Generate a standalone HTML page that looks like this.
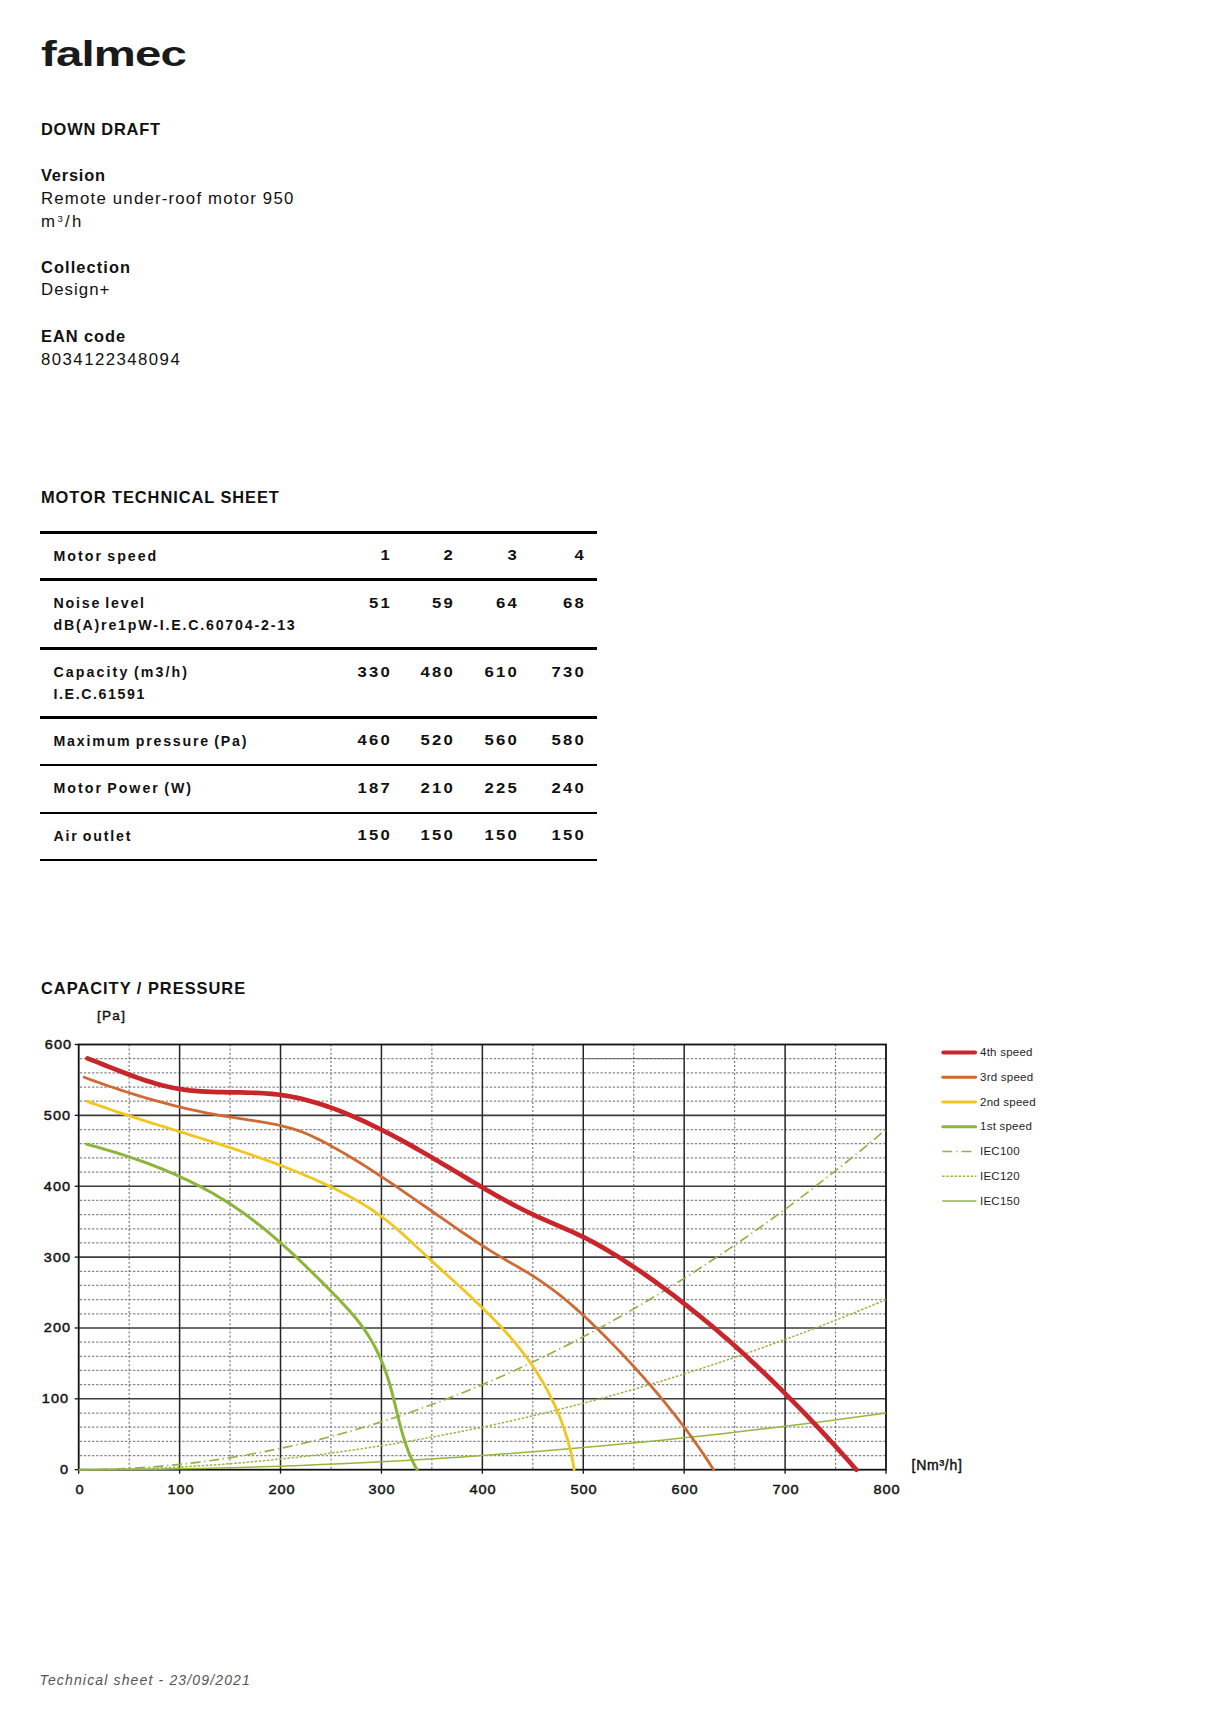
<!DOCTYPE html>
<html><head><meta charset="utf-8"><title>falmec - Technical sheet</title>
<style>
html,body{margin:0;padding:0;background:#fff;}
body{width:1214px;height:1718px;position:relative;overflow:hidden;font-family:"Liberation Sans", sans-serif;}
</style></head><body>
<div style="position:absolute;left:40.5px;top:35.57px;font-size:35px;line-height:35px;font-weight:700;letter-spacing:-0.6px;font-style:normal;color:#1a1a1a;white-space:nowrap;transform:scaleX(1.352);transform-origin:0 0;">falmec</div>
<div style="position:absolute;left:41px;top:120.82px;font-size:16.4px;line-height:16.4px;font-weight:700;letter-spacing:0.78px;font-style:normal;color:#111;white-space:nowrap;">DOWN DRAFT</div>
<div style="position:absolute;left:41px;top:167.12px;font-size:16.4px;line-height:16.4px;font-weight:700;letter-spacing:0.8px;font-style:normal;color:#111;white-space:nowrap;">Version</div>
<div style="position:absolute;left:41px;top:191.08px;font-size:16.8px;line-height:16.8px;font-weight:400;letter-spacing:1.2px;font-style:normal;color:#111;white-space:nowrap;">Remote under-roof motor 950</div>
<div style="position:absolute;left:41px;top:214.18px;font-size:16.8px;line-height:16.8px;font-weight:400;letter-spacing:2.4px;font-style:normal;color:#111;white-space:nowrap;">m<span style="font-size:9.5px;position:relative;top:-5.2px;letter-spacing:2.2px">3</span>/h</div>
<div style="position:absolute;left:41px;top:259.12px;font-size:16.4px;line-height:16.4px;font-weight:700;letter-spacing:1.1px;font-style:normal;color:#111;white-space:nowrap;">Collection</div>
<div style="position:absolute;left:41px;top:282.08px;font-size:16.8px;line-height:16.8px;font-weight:400;letter-spacing:1.05px;font-style:normal;color:#111;white-space:nowrap;">Design+</div>
<div style="position:absolute;left:41px;top:328.02px;font-size:16.4px;line-height:16.4px;font-weight:700;letter-spacing:0.95px;font-style:normal;color:#111;white-space:nowrap;">EAN code</div>
<div style="position:absolute;left:41px;top:351.88px;font-size:16.8px;line-height:16.8px;font-weight:400;letter-spacing:1.45px;font-style:normal;color:#111;white-space:nowrap;">8034122348094</div>
<div style="position:absolute;left:41px;top:489.12px;font-size:16.4px;line-height:16.4px;font-weight:700;letter-spacing:0.95px;font-style:normal;color:#111;white-space:nowrap;">MOTOR TECHNICAL SHEET</div>
<div style="position:absolute;left:40px;top:530.7px;width:557px;height:3px;background:#000"></div>
<div style="position:absolute;left:40px;top:578.0px;width:557px;height:3px;background:#000"></div>
<div style="position:absolute;left:40px;top:646.5px;width:557px;height:3px;background:#000"></div>
<div style="position:absolute;left:40px;top:715.5px;width:557px;height:3px;background:#000"></div>
<div style="position:absolute;left:40px;top:764.0px;width:557px;height:2px;background:#000"></div>
<div style="position:absolute;left:40px;top:811.5px;width:557px;height:2px;background:#000"></div>
<div style="position:absolute;left:40px;top:859.0px;width:557px;height:2px;background:#000"></div>
<div style="position:absolute;left:53.5px;top:548.88px;font-size:14.2px;line-height:14.2px;font-weight:700;letter-spacing:2.0px;font-style:normal;color:#111;white-space:nowrap;word-spacing:-1.6px;">Motor speed</div>
<div style="position:absolute;left:291.9px;top:548.23px;width:100px;text-align:right;font-size:14.5px;line-height:14.5px;font-weight:700;letter-spacing:1.95px;color:#111;transform:scaleX(1.15);transform-origin:100% 0">1</div>
<div style="position:absolute;left:355.2px;top:548.23px;width:100px;text-align:right;font-size:14.5px;line-height:14.5px;font-weight:700;letter-spacing:1.95px;color:#111;transform:scaleX(1.15);transform-origin:100% 0">2</div>
<div style="position:absolute;left:419.4px;top:548.23px;width:100px;text-align:right;font-size:14.5px;line-height:14.5px;font-weight:700;letter-spacing:1.95px;color:#111;transform:scaleX(1.15);transform-origin:100% 0">3</div>
<div style="position:absolute;left:485.7px;top:548.23px;width:100px;text-align:right;font-size:14.5px;line-height:14.5px;font-weight:700;letter-spacing:1.95px;color:#111;transform:scaleX(1.15);transform-origin:100% 0">4</div>
<div style="position:absolute;left:53.5px;top:596.38px;font-size:14.2px;line-height:14.2px;font-weight:700;letter-spacing:1.8px;font-style:normal;color:#111;white-space:nowrap;word-spacing:-1.6px;">Noise level</div>
<div style="position:absolute;left:53.5px;top:617.88px;font-size:14.2px;line-height:14.2px;font-weight:700;letter-spacing:1.8px;font-style:normal;color:#111;white-space:nowrap;word-spacing:-1.6px;">dB(A)re1pW-I.E.C.60704-2-13</div>
<div style="position:absolute;left:291.9px;top:595.73px;width:100px;text-align:right;font-size:14.5px;line-height:14.5px;font-weight:700;letter-spacing:1.95px;color:#111;transform:scaleX(1.15);transform-origin:100% 0">51</div>
<div style="position:absolute;left:355.2px;top:595.73px;width:100px;text-align:right;font-size:14.5px;line-height:14.5px;font-weight:700;letter-spacing:1.95px;color:#111;transform:scaleX(1.15);transform-origin:100% 0">59</div>
<div style="position:absolute;left:419.4px;top:595.73px;width:100px;text-align:right;font-size:14.5px;line-height:14.5px;font-weight:700;letter-spacing:1.95px;color:#111;transform:scaleX(1.15);transform-origin:100% 0">64</div>
<div style="position:absolute;left:485.7px;top:595.73px;width:100px;text-align:right;font-size:14.5px;line-height:14.5px;font-weight:700;letter-spacing:1.95px;color:#111;transform:scaleX(1.15);transform-origin:100% 0">68</div>
<div style="position:absolute;left:53.5px;top:665.38px;font-size:14.2px;line-height:14.2px;font-weight:700;letter-spacing:2.1px;font-style:normal;color:#111;white-space:nowrap;word-spacing:-1.6px;">Capacity (m3/h)</div>
<div style="position:absolute;left:53.5px;top:686.88px;font-size:14.2px;line-height:14.2px;font-weight:700;letter-spacing:1.6px;font-style:normal;color:#111;white-space:nowrap;word-spacing:-1.6px;">I.E.C.61591</div>
<div style="position:absolute;left:291.9px;top:664.73px;width:100px;text-align:right;font-size:14.5px;line-height:14.5px;font-weight:700;letter-spacing:1.95px;color:#111;transform:scaleX(1.15);transform-origin:100% 0">330</div>
<div style="position:absolute;left:355.2px;top:664.73px;width:100px;text-align:right;font-size:14.5px;line-height:14.5px;font-weight:700;letter-spacing:1.95px;color:#111;transform:scaleX(1.15);transform-origin:100% 0">480</div>
<div style="position:absolute;left:419.4px;top:664.73px;width:100px;text-align:right;font-size:14.5px;line-height:14.5px;font-weight:700;letter-spacing:1.95px;color:#111;transform:scaleX(1.15);transform-origin:100% 0">610</div>
<div style="position:absolute;left:485.7px;top:664.73px;width:100px;text-align:right;font-size:14.5px;line-height:14.5px;font-weight:700;letter-spacing:1.95px;color:#111;transform:scaleX(1.15);transform-origin:100% 0">730</div>
<div style="position:absolute;left:53.5px;top:733.88px;font-size:14.2px;line-height:14.2px;font-weight:700;letter-spacing:1.8px;font-style:normal;color:#111;white-space:nowrap;word-spacing:-1.6px;">Maximum pressure (Pa)</div>
<div style="position:absolute;left:291.9px;top:733.23px;width:100px;text-align:right;font-size:14.5px;line-height:14.5px;font-weight:700;letter-spacing:1.95px;color:#111;transform:scaleX(1.15);transform-origin:100% 0">460</div>
<div style="position:absolute;left:355.2px;top:733.23px;width:100px;text-align:right;font-size:14.5px;line-height:14.5px;font-weight:700;letter-spacing:1.95px;color:#111;transform:scaleX(1.15);transform-origin:100% 0">520</div>
<div style="position:absolute;left:419.4px;top:733.23px;width:100px;text-align:right;font-size:14.5px;line-height:14.5px;font-weight:700;letter-spacing:1.95px;color:#111;transform:scaleX(1.15);transform-origin:100% 0">560</div>
<div style="position:absolute;left:485.7px;top:733.23px;width:100px;text-align:right;font-size:14.5px;line-height:14.5px;font-weight:700;letter-spacing:1.95px;color:#111;transform:scaleX(1.15);transform-origin:100% 0">580</div>
<div style="position:absolute;left:53.5px;top:781.38px;font-size:14.2px;line-height:14.2px;font-weight:700;letter-spacing:2.0px;font-style:normal;color:#111;white-space:nowrap;word-spacing:-1.6px;">Motor Power (W)</div>
<div style="position:absolute;left:291.9px;top:780.73px;width:100px;text-align:right;font-size:14.5px;line-height:14.5px;font-weight:700;letter-spacing:1.95px;color:#111;transform:scaleX(1.15);transform-origin:100% 0">187</div>
<div style="position:absolute;left:355.2px;top:780.73px;width:100px;text-align:right;font-size:14.5px;line-height:14.5px;font-weight:700;letter-spacing:1.95px;color:#111;transform:scaleX(1.15);transform-origin:100% 0">210</div>
<div style="position:absolute;left:419.4px;top:780.73px;width:100px;text-align:right;font-size:14.5px;line-height:14.5px;font-weight:700;letter-spacing:1.95px;color:#111;transform:scaleX(1.15);transform-origin:100% 0">225</div>
<div style="position:absolute;left:485.7px;top:780.73px;width:100px;text-align:right;font-size:14.5px;line-height:14.5px;font-weight:700;letter-spacing:1.95px;color:#111;transform:scaleX(1.15);transform-origin:100% 0">240</div>
<div style="position:absolute;left:53.5px;top:828.88px;font-size:14.2px;line-height:14.2px;font-weight:700;letter-spacing:1.8px;font-style:normal;color:#111;white-space:nowrap;word-spacing:-1.6px;">Air outlet</div>
<div style="position:absolute;left:291.9px;top:828.23px;width:100px;text-align:right;font-size:14.5px;line-height:14.5px;font-weight:700;letter-spacing:1.95px;color:#111;transform:scaleX(1.15);transform-origin:100% 0">150</div>
<div style="position:absolute;left:355.2px;top:828.23px;width:100px;text-align:right;font-size:14.5px;line-height:14.5px;font-weight:700;letter-spacing:1.95px;color:#111;transform:scaleX(1.15);transform-origin:100% 0">150</div>
<div style="position:absolute;left:419.4px;top:828.23px;width:100px;text-align:right;font-size:14.5px;line-height:14.5px;font-weight:700;letter-spacing:1.95px;color:#111;transform:scaleX(1.15);transform-origin:100% 0">150</div>
<div style="position:absolute;left:485.7px;top:828.23px;width:100px;text-align:right;font-size:14.5px;line-height:14.5px;font-weight:700;letter-spacing:1.95px;color:#111;transform:scaleX(1.15);transform-origin:100% 0">150</div>
<div style="position:absolute;left:41px;top:980.12px;font-size:16.4px;line-height:16.4px;font-weight:700;letter-spacing:1.0px;font-style:normal;color:#111;white-space:nowrap;">CAPACITY / PRESSURE</div>
<div style="position:absolute;left:97px;top:1008.77px;font-size:13.5px;line-height:13.5px;font-weight:400;letter-spacing:1.3px;font-style:normal;color:#111;white-space:nowrap;-webkit-text-stroke:0.45px #111;">[Pa]</div>
<svg style="position:absolute;left:0;top:0" width="1214" height="1718" viewBox="0 0 1214 1718">
<line x1="79.7" y1="1455.53" x2="886.0" y2="1455.53" stroke="#888" stroke-width="1.25" stroke-dasharray="2.4 1.7"/>
<line x1="79.7" y1="1441.35" x2="886.0" y2="1441.35" stroke="#888" stroke-width="1.25" stroke-dasharray="2.4 1.7"/>
<line x1="79.7" y1="1427.18" x2="886.0" y2="1427.18" stroke="#888" stroke-width="1.25" stroke-dasharray="2.4 1.7"/>
<line x1="79.7" y1="1413.01" x2="886.0" y2="1413.01" stroke="#888" stroke-width="1.25" stroke-dasharray="2.4 1.7"/>
<line x1="79.7" y1="1384.66" x2="886.0" y2="1384.66" stroke="#888" stroke-width="1.25" stroke-dasharray="2.4 1.7"/>
<line x1="79.7" y1="1370.49" x2="886.0" y2="1370.49" stroke="#888" stroke-width="1.25" stroke-dasharray="2.4 1.7"/>
<line x1="79.7" y1="1356.31" x2="886.0" y2="1356.31" stroke="#888" stroke-width="1.25" stroke-dasharray="2.4 1.7"/>
<line x1="79.7" y1="1342.14" x2="886.0" y2="1342.14" stroke="#888" stroke-width="1.25" stroke-dasharray="2.4 1.7"/>
<line x1="79.7" y1="1313.79" x2="886.0" y2="1313.79" stroke="#888" stroke-width="1.25" stroke-dasharray="2.4 1.7"/>
<line x1="79.7" y1="1299.62" x2="886.0" y2="1299.62" stroke="#888" stroke-width="1.25" stroke-dasharray="2.4 1.7"/>
<line x1="79.7" y1="1285.45" x2="886.0" y2="1285.45" stroke="#888" stroke-width="1.25" stroke-dasharray="2.4 1.7"/>
<line x1="79.7" y1="1271.27" x2="886.0" y2="1271.27" stroke="#888" stroke-width="1.25" stroke-dasharray="2.4 1.7"/>
<line x1="79.7" y1="1242.93" x2="886.0" y2="1242.93" stroke="#888" stroke-width="1.25" stroke-dasharray="2.4 1.7"/>
<line x1="79.7" y1="1228.75" x2="886.0" y2="1228.75" stroke="#888" stroke-width="1.25" stroke-dasharray="2.4 1.7"/>
<line x1="79.7" y1="1214.58" x2="886.0" y2="1214.58" stroke="#888" stroke-width="1.25" stroke-dasharray="2.4 1.7"/>
<line x1="79.7" y1="1200.41" x2="886.0" y2="1200.41" stroke="#888" stroke-width="1.25" stroke-dasharray="2.4 1.7"/>
<line x1="79.7" y1="1172.06" x2="886.0" y2="1172.06" stroke="#888" stroke-width="1.25" stroke-dasharray="2.4 1.7"/>
<line x1="79.7" y1="1157.89" x2="886.0" y2="1157.89" stroke="#888" stroke-width="1.25" stroke-dasharray="2.4 1.7"/>
<line x1="79.7" y1="1143.71" x2="886.0" y2="1143.71" stroke="#888" stroke-width="1.25" stroke-dasharray="2.4 1.7"/>
<line x1="79.7" y1="1129.54" x2="886.0" y2="1129.54" stroke="#888" stroke-width="1.25" stroke-dasharray="2.4 1.7"/>
<line x1="79.7" y1="1101.19" x2="886.0" y2="1101.19" stroke="#888" stroke-width="1.25" stroke-dasharray="2.4 1.7"/>
<line x1="79.7" y1="1087.02" x2="886.0" y2="1087.02" stroke="#888" stroke-width="1.25" stroke-dasharray="2.4 1.7"/>
<line x1="79.7" y1="1072.85" x2="886.0" y2="1072.85" stroke="#888" stroke-width="1.25" stroke-dasharray="2.4 1.7"/>
<line x1="79.7" y1="1058.67" x2="886.0" y2="1058.67" stroke="#888" stroke-width="1.25" stroke-dasharray="2.4 1.7"/>
<line x1="585.3" y1="1058.67" x2="684.2" y2="1058.67" stroke="#666" stroke-width="1"/>
<line x1="129.16" y1="1044.5" x2="129.16" y2="1469.7" stroke="#6e6e6e" stroke-width="1.1" stroke-dasharray="2 2.1"/>
<line x1="230.07" y1="1044.5" x2="230.07" y2="1469.7" stroke="#6e6e6e" stroke-width="1.1" stroke-dasharray="2 2.1"/>
<line x1="330.98" y1="1044.5" x2="330.98" y2="1469.7" stroke="#6e6e6e" stroke-width="1.1" stroke-dasharray="2 2.1"/>
<line x1="431.89" y1="1044.5" x2="431.89" y2="1469.7" stroke="#6e6e6e" stroke-width="1.1" stroke-dasharray="2 2.1"/>
<line x1="532.81" y1="1044.5" x2="532.81" y2="1469.7" stroke="#6e6e6e" stroke-width="1.1" stroke-dasharray="2 2.1"/>
<line x1="633.72" y1="1044.5" x2="633.72" y2="1469.7" stroke="#6e6e6e" stroke-width="1.1" stroke-dasharray="2 2.1"/>
<line x1="734.63" y1="1044.5" x2="734.63" y2="1469.7" stroke="#6e6e6e" stroke-width="1.1" stroke-dasharray="2 2.1"/>
<line x1="835.54" y1="1044.5" x2="835.54" y2="1469.7" stroke="#6e6e6e" stroke-width="1.1" stroke-dasharray="2 2.1"/>
<line x1="78.7" y1="1398.83" x2="886.0" y2="1398.83" stroke="#3c3c3c" stroke-width="1.55"/>
<line x1="78.7" y1="1327.97" x2="886.0" y2="1327.97" stroke="#3c3c3c" stroke-width="1.55"/>
<line x1="78.7" y1="1257.10" x2="886.0" y2="1257.10" stroke="#3c3c3c" stroke-width="1.55"/>
<line x1="78.7" y1="1186.23" x2="886.0" y2="1186.23" stroke="#3c3c3c" stroke-width="1.55"/>
<line x1="78.7" y1="1115.37" x2="886.0" y2="1115.37" stroke="#3c3c3c" stroke-width="1.55"/>
<line x1="179.61" y1="1044.5" x2="179.61" y2="1469.7" stroke="#262626" stroke-width="1.5"/>
<line x1="280.52" y1="1044.5" x2="280.52" y2="1469.7" stroke="#262626" stroke-width="1.5"/>
<line x1="381.44" y1="1044.5" x2="381.44" y2="1469.7" stroke="#262626" stroke-width="1.5"/>
<line x1="482.35" y1="1044.5" x2="482.35" y2="1469.7" stroke="#262626" stroke-width="1.5"/>
<line x1="583.26" y1="1044.5" x2="583.26" y2="1469.7" stroke="#262626" stroke-width="1.5"/>
<line x1="684.18" y1="1044.5" x2="684.18" y2="1469.7" stroke="#262626" stroke-width="1.5"/>
<line x1="785.09" y1="1044.5" x2="785.09" y2="1469.7" stroke="#262626" stroke-width="1.5"/>
<rect x="78.7" y="1044.5" width="807.3" height="425.2" fill="none" stroke="#111" stroke-width="1.8"/>
<line x1="74.7" y1="1469.70" x2="78.7" y2="1469.70" stroke="#111" stroke-width="1.3"/>
<line x1="74.7" y1="1398.83" x2="78.7" y2="1398.83" stroke="#111" stroke-width="1.3"/>
<line x1="74.7" y1="1327.97" x2="78.7" y2="1327.97" stroke="#111" stroke-width="1.3"/>
<line x1="74.7" y1="1257.10" x2="78.7" y2="1257.10" stroke="#111" stroke-width="1.3"/>
<line x1="74.7" y1="1186.23" x2="78.7" y2="1186.23" stroke="#111" stroke-width="1.3"/>
<line x1="74.7" y1="1115.37" x2="78.7" y2="1115.37" stroke="#111" stroke-width="1.3"/>
<line x1="74.7" y1="1044.50" x2="78.7" y2="1044.50" stroke="#111" stroke-width="1.3"/>
<line x1="78.70" y1="1469.7" x2="78.70" y2="1473.7" stroke="#111" stroke-width="1.3"/>
<line x1="179.61" y1="1469.7" x2="179.61" y2="1473.7" stroke="#111" stroke-width="1.3"/>
<line x1="280.52" y1="1469.7" x2="280.52" y2="1473.7" stroke="#111" stroke-width="1.3"/>
<line x1="381.44" y1="1469.7" x2="381.44" y2="1473.7" stroke="#111" stroke-width="1.3"/>
<line x1="482.35" y1="1469.7" x2="482.35" y2="1473.7" stroke="#111" stroke-width="1.3"/>
<line x1="583.26" y1="1469.7" x2="583.26" y2="1473.7" stroke="#111" stroke-width="1.3"/>
<line x1="684.18" y1="1469.7" x2="684.18" y2="1473.7" stroke="#111" stroke-width="1.3"/>
<line x1="785.09" y1="1469.7" x2="785.09" y2="1473.7" stroke="#111" stroke-width="1.3"/>
<line x1="886.00" y1="1469.7" x2="886.00" y2="1473.7" stroke="#111" stroke-width="1.3"/>
<path d="M78.70,1469.70 L98.88,1469.49 L119.06,1468.85 L139.25,1467.79 L159.43,1466.30 L179.61,1464.38 L199.80,1462.05 L219.98,1459.28 L240.16,1456.09 L260.34,1452.48 L280.52,1448.44 L300.71,1443.98 L320.89,1439.09 L341.07,1433.77 L361.25,1428.03 L381.44,1421.87 L401.62,1415.27 L421.80,1408.26 L441.99,1400.82 L462.17,1392.95 L482.35,1384.66 L502.53,1375.94 L522.72,1366.80 L542.90,1357.23 L563.08,1347.24 L583.26,1336.83 L603.45,1325.98 L623.63,1314.71 L643.81,1303.02 L663.99,1290.90 L684.18,1278.36 L704.36,1265.39 L724.54,1252.00 L744.72,1238.18 L764.91,1223.93 L785.09,1209.26 L805.27,1194.17 L825.45,1178.65 L845.63,1162.71 L865.82,1146.34 L886.00,1129.54" fill="none" stroke="#98b046" stroke-width="1.7" stroke-dasharray="10 3.7 1.3 3.7"/>
<path d="M78.70,1469.70 L98.88,1469.59 L119.06,1469.27 L139.25,1468.74 L159.43,1468.00 L179.61,1467.04 L199.80,1465.87 L219.98,1464.49 L240.16,1462.90 L260.34,1461.09 L280.52,1459.07 L300.71,1456.84 L320.89,1454.39 L341.07,1451.74 L361.25,1448.87 L381.44,1445.78 L401.62,1442.49 L421.80,1438.98 L441.99,1435.26 L462.17,1431.33 L482.35,1427.18 L502.53,1422.82 L522.72,1418.25 L542.90,1413.47 L563.08,1408.47 L583.26,1403.26 L603.45,1397.84 L623.63,1392.21 L643.81,1386.36 L663.99,1380.30 L684.18,1374.03 L704.36,1367.55 L724.54,1360.85 L744.72,1353.94 L764.91,1346.82 L785.09,1339.48 L805.27,1331.94 L825.45,1324.18 L845.63,1316.20 L865.82,1308.02 L886.00,1299.62" fill="none" stroke="#9db543" stroke-width="1.5" stroke-dasharray="2.5 1.6"/>
<path d="M78.70,1469.70 L98.88,1469.66 L119.06,1469.56 L139.25,1469.38 L159.43,1469.13 L179.61,1468.81 L199.80,1468.42 L219.98,1467.96 L240.16,1467.43 L260.34,1466.83 L280.52,1466.16 L300.71,1465.41 L320.89,1464.60 L341.07,1463.71 L361.25,1462.76 L381.44,1461.73 L401.62,1460.63 L421.80,1459.46 L441.99,1458.22 L462.17,1456.91 L482.35,1455.53 L502.53,1454.07 L522.72,1452.55 L542.90,1450.96 L563.08,1449.29 L583.26,1447.55 L603.45,1445.75 L623.63,1443.87 L643.81,1441.92 L663.99,1439.90 L684.18,1437.81 L704.36,1435.65 L724.54,1433.42 L744.72,1431.11 L764.91,1428.74 L785.09,1426.29 L805.27,1423.78 L825.45,1421.19 L845.63,1418.53 L865.82,1415.81 L886.00,1413.01" fill="none" stroke="#95b83c" stroke-width="1.5"/>
<path d="M86.77,1144.21 L89.75,1145.01 L92.72,1145.83 L95.69,1146.65 L98.67,1147.49 L101.64,1148.34 L104.60,1149.20 L107.57,1150.07 L110.54,1150.96 L113.50,1151.86 L116.46,1152.77 L119.41,1153.70 L122.36,1154.64 L125.31,1155.60 L128.26,1156.57 L131.20,1157.55 L134.13,1158.55 L137.06,1159.56 L139.98,1160.59 L142.90,1161.64 L145.82,1162.70 L148.72,1163.78 L151.62,1164.87 L154.51,1165.98 L157.40,1167.11 L160.28,1168.25 L163.15,1169.41 L166.01,1170.59 L168.86,1171.79 L171.71,1173.00 L174.54,1174.24 L177.37,1175.49 L180.19,1176.76 L182.99,1178.05 L185.79,1179.36 L188.58,1180.69 L191.35,1182.04 L194.11,1183.40 L196.87,1184.79 L199.61,1186.20 L202.33,1187.63 L205.05,1189.08 L207.75,1190.56 L210.44,1192.05 L213.12,1193.57 L215.78,1195.11 L218.43,1196.67 L221.06,1198.25 L223.68,1199.86 L226.29,1201.49 L228.88,1203.14 L231.45,1204.81 L234.01,1206.51 L236.56,1208.23 L239.09,1209.97 L241.60,1211.74 L244.10,1213.52 L246.59,1215.33 L249.07,1217.15 L251.53,1219.00 L253.98,1220.86 L256.42,1222.74 L258.84,1224.64 L261.26,1226.55 L263.66,1228.49 L266.05,1230.44 L268.43,1232.40 L270.80,1234.39 L273.16,1236.38 L275.51,1238.39 L277.84,1240.42 L280.17,1242.46 L282.49,1244.51 L284.80,1246.57 L287.10,1248.65 L289.40,1250.73 L291.68,1252.83 L293.96,1254.94 L296.23,1257.06 L298.49,1259.19 L300.75,1261.33 L303.00,1263.48 L305.24,1265.63 L307.47,1267.80 L309.70,1269.97 L311.93,1272.14 L314.15,1274.33 L316.36,1276.52 L318.57,1278.71 L320.77,1280.91 L322.97,1283.12 L325.17,1285.32 L327.36,1287.53 L329.55,1289.75 L331.74,1291.97 L333.92,1294.19 L336.09,1296.42 L338.24,1298.65 L340.39,1300.90 L342.51,1303.16 L344.62,1305.43 L346.70,1307.71 L348.76,1310.01 L350.80,1312.32 L352.80,1314.66 L354.77,1317.01 L356.71,1319.39 L358.61,1321.78 L360.46,1324.21 L362.28,1326.66 L364.05,1329.13 L365.78,1331.64 L367.45,1334.18 L369.08,1336.74 L370.66,1339.34 L372.19,1341.96 L373.67,1344.61 L375.10,1347.29 L376.49,1350.00 L377.83,1352.73 L379.13,1355.48 L380.38,1358.26 L381.59,1361.07 L382.75,1363.89 L383.87,1366.74 L384.95,1369.62 L385.99,1372.51 L386.98,1375.42 L387.93,1378.36 L388.85,1381.31 L389.73,1384.28 L390.58,1387.26 L391.40,1390.26 L392.20,1393.26 L392.98,1396.28 L393.75,1399.30 L394.50,1402.33 L395.24,1405.37 L395.98,1408.41 L396.72,1411.45 L397.46,1414.48 L398.21,1417.52 L398.97,1420.55 L399.74,1423.57 L400.53,1426.59 L401.35,1429.60 L402.18,1432.59 L403.05,1435.57 L403.95,1438.54 L404.89,1441.49 L405.86,1444.42 L406.88,1447.34 L407.95,1450.23 L409.07,1453.09 L410.24,1455.93 L411.47,1458.75 L412.76,1461.53 L414.12,1464.29 L415.55,1467.01 L417.06,1469.70" fill="none" stroke="#8db53a" stroke-width="3" stroke-linecap="round"/>
<path d="M86.77,1101.19 L90.56,1102.57 L94.35,1103.93 L98.14,1105.28 L101.95,1106.62 L105.76,1107.94 L109.57,1109.25 L113.40,1110.55 L117.22,1111.84 L121.06,1113.12 L124.90,1114.38 L128.74,1115.64 L132.59,1116.89 L136.44,1118.13 L140.29,1119.37 L144.15,1120.60 L148.01,1121.82 L151.88,1123.04 L155.74,1124.25 L159.61,1125.47 L163.48,1126.67 L167.36,1127.88 L171.23,1129.08 L175.11,1130.28 L178.98,1131.49 L182.86,1132.69 L186.74,1133.89 L190.61,1135.10 L194.49,1136.30 L198.36,1137.52 L202.24,1138.73 L206.11,1139.95 L209.98,1141.17 L213.85,1142.40 L217.72,1143.64 L221.58,1144.88 L225.44,1146.13 L229.30,1147.39 L233.15,1148.66 L237.00,1149.94 L240.85,1151.23 L244.69,1152.53 L248.53,1153.84 L252.36,1155.16 L256.19,1156.50 L260.01,1157.85 L263.82,1159.22 L267.63,1160.60 L271.44,1161.99 L275.23,1163.41 L279.02,1164.84 L282.80,1166.28 L286.57,1167.75 L290.34,1169.24 L294.09,1170.74 L297.84,1172.27 L301.58,1173.81 L305.31,1175.38 L309.03,1176.98 L312.74,1178.59 L316.44,1180.23 L320.13,1181.89 L323.80,1183.58 L327.47,1185.30 L331.13,1187.04 L334.77,1188.81 L338.40,1190.61 L342.00,1192.44 L345.59,1194.31 L349.16,1196.21 L352.70,1198.16 L356.22,1200.14 L359.70,1202.17 L363.16,1204.24 L366.58,1206.36 L369.96,1208.54 L373.31,1210.76 L376.62,1213.04 L379.88,1215.37 L383.10,1217.76 L386.27,1220.21 L389.41,1222.71 L392.52,1225.25 L395.59,1227.84 L398.63,1230.46 L401.65,1233.12 L404.65,1235.81 L407.63,1238.52 L410.60,1241.26 L413.56,1244.00 L416.52,1246.77 L419.47,1249.54 L422.43,1252.31 L425.38,1255.08 L428.35,1257.85 L431.33,1260.61 L434.32,1263.36 L437.31,1266.11 L440.31,1268.85 L443.32,1271.60 L446.32,1274.34 L449.33,1277.08 L452.34,1279.82 L455.35,1282.56 L458.35,1285.31 L461.35,1288.06 L464.34,1290.81 L467.32,1293.58 L470.29,1296.35 L473.25,1299.13 L476.20,1301.93 L479.13,1304.73 L482.04,1307.55 L484.94,1310.39 L487.82,1313.24 L490.67,1316.10 L493.51,1318.99 L496.32,1321.89 L499.10,1324.82 L501.85,1327.77 L504.58,1330.74 L507.27,1333.74 L509.94,1336.76 L512.56,1339.81 L515.16,1342.88 L517.71,1345.99 L520.23,1349.13 L522.70,1352.30 L525.14,1355.50 L527.53,1358.74 L529.87,1362.01 L532.17,1365.32 L534.42,1368.66 L536.62,1372.04 L538.77,1375.46 L540.88,1378.91 L542.93,1382.39 L544.93,1385.90 L546.88,1389.45 L548.77,1393.02 L550.61,1396.63 L552.39,1400.26 L554.12,1403.92 L555.80,1407.61 L557.41,1411.33 L558.97,1415.07 L560.46,1418.83 L561.90,1422.62 L563.28,1426.44 L564.59,1430.27 L565.85,1434.13 L567.04,1438.01 L568.16,1441.91 L569.22,1445.83 L570.22,1449.76 L571.15,1453.72 L572.01,1457.69 L572.80,1461.68 L573.52,1465.68 L574.18,1469.70" fill="none" stroke="#f1c71f" stroke-width="2.8" stroke-linecap="round"/>
<path d="M84.25,1077.31 L88.78,1078.98 L93.32,1080.63 L97.86,1082.26 L102.41,1083.86 L106.96,1085.45 L111.51,1087.01 L116.07,1088.54 L120.64,1090.05 L125.21,1091.54 L129.78,1093.00 L134.37,1094.43 L138.95,1095.84 L143.55,1097.22 L148.15,1098.57 L152.76,1099.89 L157.38,1101.19 L162.00,1102.45 L166.63,1103.68 L171.28,1104.89 L175.93,1106.06 L180.58,1107.20 L185.25,1108.31 L189.93,1109.38 L194.62,1110.42 L199.31,1111.43 L204.02,1112.40 L208.74,1113.33 L213.46,1114.23 L218.20,1115.10 L222.95,1115.92 L227.72,1116.71 L232.49,1117.46 L237.27,1118.19 L242.06,1118.90 L246.84,1119.61 L251.62,1120.32 L256.40,1121.06 L261.16,1121.83 L265.90,1122.65 L270.62,1123.53 L275.32,1124.47 L279.99,1125.50 L284.63,1126.62 L289.23,1127.85 L293.78,1129.20 L298.30,1130.67 L302.76,1132.29 L307.17,1134.06 L311.53,1135.97 L315.85,1138.00 L320.14,1140.12 L324.39,1142.32 L328.63,1144.58 L332.84,1146.89 L337.04,1149.24 L341.22,1151.62 L345.39,1154.05 L349.54,1156.50 L353.67,1158.99 L357.79,1161.51 L361.90,1164.05 L365.99,1166.63 L370.06,1169.22 L374.12,1171.84 L378.17,1174.48 L382.21,1177.14 L386.23,1179.81 L390.24,1182.50 L394.24,1185.20 L398.23,1187.91 L402.21,1190.62 L406.17,1193.35 L410.13,1196.08 L414.07,1198.81 L418.01,1201.54 L421.95,1204.28 L425.88,1207.01 L429.80,1209.75 L433.73,1212.49 L437.66,1215.23 L441.58,1217.96 L445.51,1220.69 L449.45,1223.42 L453.39,1226.15 L457.34,1228.87 L461.30,1231.58 L465.26,1234.28 L469.24,1236.97 L473.24,1239.64 L477.25,1242.30 L481.28,1244.93 L485.32,1247.53 L489.39,1250.11 L493.48,1252.65 L497.60,1255.16 L501.74,1257.63 L505.91,1260.06 L510.09,1262.47 L514.27,1264.87 L518.45,1267.27 L522.62,1269.69 L526.76,1272.15 L530.86,1274.65 L534.92,1277.22 L538.93,1279.85 L542.89,1282.55 L546.80,1285.31 L550.67,1288.13 L554.49,1291.00 L558.27,1293.94 L562.02,1296.92 L565.72,1299.96 L569.39,1303.04 L573.02,1306.16 L576.62,1309.33 L580.19,1312.53 L583.73,1315.78 L587.25,1319.05 L590.73,1322.36 L594.20,1325.69 L597.64,1329.05 L601.06,1332.43 L604.47,1335.84 L607.85,1339.26 L611.22,1342.69 L614.58,1346.14 L617.92,1349.61 L621.24,1353.09 L624.55,1356.59 L627.84,1360.11 L631.11,1363.64 L634.36,1367.19 L637.59,1370.75 L640.81,1374.34 L644.00,1377.93 L647.18,1381.55 L650.33,1385.18 L653.47,1388.83 L656.58,1392.50 L659.67,1396.18 L662.73,1399.89 L665.78,1403.61 L668.80,1407.34 L671.80,1411.10 L674.77,1414.88 L677.72,1418.67 L680.65,1422.48 L683.55,1426.31 L686.42,1430.16 L689.27,1434.02 L692.09,1437.91 L694.88,1441.82 L697.65,1445.74 L700.39,1449.68 L703.10,1453.65 L705.78,1457.63 L708.43,1461.63 L711.05,1465.66 L713.64,1469.70" fill="none" stroke="#cf6a34" stroke-width="2.8" stroke-linecap="round"/>
<path d="M87.48,1058.32 L92.68,1060.35 L97.90,1062.41 L103.12,1064.49 L108.36,1066.58 L113.61,1068.67 L118.87,1070.74 L124.15,1072.79 L129.45,1074.78 L134.77,1076.73 L140.11,1078.60 L145.47,1080.40 L150.85,1082.09 L156.26,1083.69 L161.69,1085.16 L167.15,1086.50 L172.64,1087.69 L178.16,1088.72 L183.70,1089.58 L189.28,1090.29 L194.88,1090.85 L200.51,1091.29 L206.15,1091.62 L211.81,1091.87 L217.48,1092.05 L223.15,1092.18 L228.84,1092.28 L234.52,1092.36 L240.20,1092.45 L245.88,1092.57 L251.54,1092.73 L257.20,1092.94 L262.83,1093.24 L268.45,1093.63 L274.05,1094.14 L279.62,1094.78 L285.16,1095.57 L290.67,1096.51 L296.15,1097.60 L301.61,1098.82 L307.03,1100.17 L312.42,1101.65 L317.79,1103.24 L323.12,1104.95 L328.43,1106.75 L333.71,1108.65 L338.96,1110.64 L344.19,1112.71 L349.38,1114.86 L354.55,1117.07 L359.70,1119.35 L364.81,1121.68 L369.90,1124.07 L374.97,1126.52 L380.02,1129.01 L385.04,1131.56 L390.05,1134.14 L395.03,1136.77 L400.00,1139.44 L404.95,1142.14 L409.89,1144.88 L414.81,1147.64 L419.71,1150.43 L424.60,1153.24 L429.48,1156.08 L434.36,1158.93 L439.22,1161.79 L444.07,1164.67 L448.91,1167.56 L453.75,1170.45 L458.59,1173.34 L463.42,1176.24 L468.25,1179.13 L473.08,1182.00 L477.92,1184.87 L482.77,1187.71 L487.62,1190.53 L492.49,1193.33 L497.38,1196.09 L502.28,1198.81 L507.21,1201.50 L512.16,1204.14 L517.14,1206.73 L522.15,1209.27 L527.19,1211.75 L532.27,1214.16 L537.38,1216.51 L542.52,1218.81 L547.69,1221.07 L552.87,1223.31 L558.05,1225.54 L563.22,1227.79 L568.38,1230.06 L573.51,1232.38 L578.61,1234.76 L583.66,1237.22 L588.66,1239.77 L593.61,1242.40 L598.52,1245.12 L603.39,1247.90 L608.22,1250.75 L613.03,1253.66 L617.80,1256.62 L622.55,1259.62 L627.28,1262.67 L631.98,1265.76 L636.66,1268.89 L641.32,1272.05 L645.96,1275.26 L650.57,1278.50 L655.16,1281.77 L659.73,1285.08 L664.28,1288.42 L668.80,1291.78 L673.31,1295.18 L677.79,1298.61 L682.25,1302.06 L686.69,1305.54 L691.10,1309.04 L695.50,1312.56 L699.87,1316.11 L704.22,1319.69 L708.55,1323.28 L712.86,1326.90 L717.15,1330.54 L721.42,1334.20 L725.68,1337.89 L729.91,1341.60 L734.12,1345.32 L738.31,1349.07 L742.48,1352.84 L746.64,1356.63 L750.77,1360.44 L754.89,1364.27 L758.99,1368.12 L763.08,1371.99 L767.14,1375.87 L771.19,1379.78 L775.22,1383.70 L779.23,1387.64 L783.23,1391.60 L787.21,1395.57 L791.17,1399.57 L795.12,1403.57 L799.06,1407.60 L802.97,1411.64 L806.88,1415.70 L810.76,1419.77 L814.64,1423.85 L818.49,1427.95 L822.34,1432.07 L826.17,1436.20 L829.98,1440.34 L833.79,1444.50 L837.58,1448.67 L841.35,1452.85 L845.12,1457.05 L848.87,1461.25 L852.60,1465.47 L856.33,1469.70" fill="none" stroke="#c9262b" stroke-width="4.7" stroke-linecap="round"/>
<line x1="943.4" y1="1052.50" x2="975.0" y2="1052.50" stroke="#c9262b" stroke-width="4.2" stroke-linecap="round"/>
<line x1="942.7" y1="1077.25" x2="975.7" y2="1077.25" stroke="#cf6a34" stroke-width="2.8" stroke-linecap="round"/>
<line x1="942.7" y1="1102.00" x2="975.7" y2="1102.00" stroke="#f1c71f" stroke-width="2.8" stroke-linecap="round"/>
<line x1="942.8" y1="1126.75" x2="975.6" y2="1126.75" stroke="#8db53a" stroke-width="3" stroke-linecap="round"/>
<line x1="942.2" y1="1151.50" x2="972.0" y2="1151.50" stroke="#98b046" stroke-width="1.7" stroke-dasharray="10 4 1.3 4"/>
<line x1="942.2" y1="1176.25" x2="976.4" y2="1176.25" stroke="#9db543" stroke-width="1.5" stroke-dasharray="2.5 1.6"/>
<line x1="942.2" y1="1201.00" x2="976.4" y2="1201.00" stroke="#95b83c" stroke-width="1.5"/>
</svg>
<div style="position:absolute;left:980px;top:1047.17px;font-size:11.5px;line-height:11.5px;font-weight:400;letter-spacing:0.24px;font-style:normal;color:#1e1e1e;white-space:nowrap;">4th speed</div>
<div style="position:absolute;left:980px;top:1071.92px;font-size:11.5px;line-height:11.5px;font-weight:400;letter-spacing:0.24px;font-style:normal;color:#1e1e1e;white-space:nowrap;">3rd speed</div>
<div style="position:absolute;left:980px;top:1096.67px;font-size:11.5px;line-height:11.5px;font-weight:400;letter-spacing:0.24px;font-style:normal;color:#1e1e1e;white-space:nowrap;">2nd speed</div>
<div style="position:absolute;left:980px;top:1121.42px;font-size:11.5px;line-height:11.5px;font-weight:400;letter-spacing:0.24px;font-style:normal;color:#1e1e1e;white-space:nowrap;">1st speed</div>
<div style="position:absolute;left:980px;top:1146.17px;font-size:11.5px;line-height:11.5px;font-weight:400;letter-spacing:0.24px;font-style:normal;color:#1e1e1e;white-space:nowrap;">IEC100</div>
<div style="position:absolute;left:980px;top:1170.92px;font-size:11.5px;line-height:11.5px;font-weight:400;letter-spacing:0.24px;font-style:normal;color:#1e1e1e;white-space:nowrap;">IEC120</div>
<div style="position:absolute;left:980px;top:1195.67px;font-size:11.5px;line-height:11.5px;font-weight:400;letter-spacing:0.24px;font-style:normal;color:#1e1e1e;white-space:nowrap;">IEC150</div>
<div style="position:absolute;left:-31.5px;top:1463.23px;width:100px;text-align:right;font-size:13.2px;line-height:13.2px;font-weight:400;-webkit-text-stroke:0.45px #111;letter-spacing:0.9px;color:#111;transform:scaleX(1.1);transform-origin:100% 0">0</div>
<div style="position:absolute;left:-31.1px;top:1392.36px;width:100px;text-align:right;font-size:13.2px;line-height:13.2px;font-weight:400;-webkit-text-stroke:0.45px #111;letter-spacing:0.9px;color:#111;transform:scaleX(1.1);transform-origin:100% 0">100</div>
<div style="position:absolute;left:-29.0px;top:1321.49px;width:100px;text-align:right;font-size:13.2px;line-height:13.2px;font-weight:400;-webkit-text-stroke:0.45px #111;letter-spacing:0.9px;color:#111;transform:scaleX(1.1);transform-origin:100% 0">200</div>
<div style="position:absolute;left:-28.9px;top:1250.63px;width:100px;text-align:right;font-size:13.2px;line-height:13.2px;font-weight:400;-webkit-text-stroke:0.45px #111;letter-spacing:0.9px;color:#111;transform:scaleX(1.1);transform-origin:100% 0">300</div>
<div style="position:absolute;left:-28.9px;top:1179.76px;width:100px;text-align:right;font-size:13.2px;line-height:13.2px;font-weight:400;-webkit-text-stroke:0.45px #111;letter-spacing:0.9px;color:#111;transform:scaleX(1.1);transform-origin:100% 0">400</div>
<div style="position:absolute;left:-28.9px;top:1108.89px;width:100px;text-align:right;font-size:13.2px;line-height:13.2px;font-weight:400;-webkit-text-stroke:0.45px #111;letter-spacing:0.9px;color:#111;transform:scaleX(1.1);transform-origin:100% 0">500</div>
<div style="position:absolute;left:-28.5px;top:1038.03px;width:100px;text-align:right;font-size:13.2px;line-height:13.2px;font-weight:400;-webkit-text-stroke:0.45px #111;letter-spacing:0.9px;color:#111;transform:scaleX(1.1);transform-origin:100% 0">600</div>
<div style="position:absolute;left:29.75px;top:1483.03px;width:100px;text-align:center;font-size:13.2px;line-height:13.2px;font-weight:400;-webkit-text-stroke:0.45px #111;letter-spacing:0.9px;color:#111;transform:scaleX(1.1);transform-origin:50% 0">0</div>
<div style="position:absolute;left:130.66px;top:1483.03px;width:100px;text-align:center;font-size:13.2px;line-height:13.2px;font-weight:400;-webkit-text-stroke:0.45px #111;letter-spacing:0.9px;color:#111;transform:scaleX(1.1);transform-origin:50% 0">100</div>
<div style="position:absolute;left:231.57px;top:1483.03px;width:100px;text-align:center;font-size:13.2px;line-height:13.2px;font-weight:400;-webkit-text-stroke:0.45px #111;letter-spacing:0.9px;color:#111;transform:scaleX(1.1);transform-origin:50% 0">200</div>
<div style="position:absolute;left:332.49px;top:1483.03px;width:100px;text-align:center;font-size:13.2px;line-height:13.2px;font-weight:400;-webkit-text-stroke:0.45px #111;letter-spacing:0.9px;color:#111;transform:scaleX(1.1);transform-origin:50% 0">300</div>
<div style="position:absolute;left:433.40px;top:1483.03px;width:100px;text-align:center;font-size:13.2px;line-height:13.2px;font-weight:400;-webkit-text-stroke:0.45px #111;letter-spacing:0.9px;color:#111;transform:scaleX(1.1);transform-origin:50% 0">400</div>
<div style="position:absolute;left:534.31px;top:1483.03px;width:100px;text-align:center;font-size:13.2px;line-height:13.2px;font-weight:400;-webkit-text-stroke:0.45px #111;letter-spacing:0.9px;color:#111;transform:scaleX(1.1);transform-origin:50% 0">500</div>
<div style="position:absolute;left:635.23px;top:1483.03px;width:100px;text-align:center;font-size:13.2px;line-height:13.2px;font-weight:400;-webkit-text-stroke:0.45px #111;letter-spacing:0.9px;color:#111;transform:scaleX(1.1);transform-origin:50% 0">600</div>
<div style="position:absolute;left:736.14px;top:1483.03px;width:100px;text-align:center;font-size:13.2px;line-height:13.2px;font-weight:400;-webkit-text-stroke:0.45px #111;letter-spacing:0.9px;color:#111;transform:scaleX(1.1);transform-origin:50% 0">700</div>
<div style="position:absolute;left:837.05px;top:1483.03px;width:100px;text-align:center;font-size:13.2px;line-height:13.2px;font-weight:400;-webkit-text-stroke:0.45px #111;letter-spacing:0.9px;color:#111;transform:scaleX(1.1);transform-origin:50% 0">800</div>
<div style="position:absolute;left:911.5px;top:1457.95px;font-size:14px;line-height:14px;font-weight:400;letter-spacing:0.75px;font-style:normal;color:#111;white-space:nowrap;-webkit-text-stroke:0.45px #111;">[Nm&#179;/h]</div>
<div style="position:absolute;left:39.5px;top:1672.65px;font-size:14px;line-height:14px;font-weight:400;letter-spacing:1.15px;font-style:italic;color:#555;white-space:nowrap;">Technical sheet - 23/09/2021</div>
</body></html>
